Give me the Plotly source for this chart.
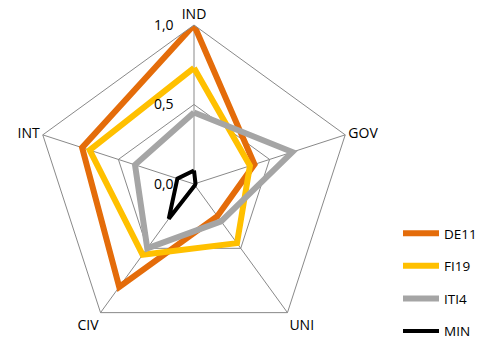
import plotly.graph_objects as go

categories = ["IND", "GOV", "UNI", "CIV", "INT"]
series_names = ["DE11", "FI19", "ITI4", "MIN"]
de11 = [1.00, 0.40, 0.25, 0.80, 0.74]
fi19 = [0.73, 0.37, 0.46, 0.55, 0.69]
iti4 = [0.45, 0.65, 0.29, 0.50, 0.39]
minv = [0.085, 0.01, 0.01, 0.27, 0.11]
radial_ticks = [0.0, 0.5, 1.0]
radial_ticktext = ["0,0", "0,5", "1,0"]

colors = ["#E46C0A", "#FFC000", "#A5A5A5", "#000000"]
widths = [6, 6, 6, 4]
all_values = [de11, fi19, iti4, minv]

fig = go.Figure()
for name, vals, col, w in zip(series_names, all_values, colors, widths):
    fig.add_trace(go.Scatterpolar(
        r=vals + vals[:1],
        theta=categories + categories[:1],
        mode="lines",
        name=name,
        legendgroup=name,
        line=dict(color=col, width=w),
    ))

W, H = 480, 343
cx, cy, R = 194, 184, 159
dx = [(cx - R) / W, (cx + R) / W]
dy = [max(0.0, (H - cy - R) / H), min(1.0, (H - cy + R) / H)]
fig.update_layout(
    width=W, height=H,
    margin=dict(l=0, r=0, t=0, b=0, autoexpand=False),
    paper_bgcolor="white",
    font=dict(family="Open Sans", size=14, color="#000000"),
    separators=",.",
    polar=dict(
        domain=dict(x=dx, y=dy),
        bgcolor="white",
        gridshape="linear",
        radialaxis=dict(
            range=[0, 1],
            tickvals=radial_ticks,
            ticktext=radial_ticktext,
            angle=90,
            tickangle=90,
            side="counterclockwise",
            showline=False,
            ticks="outside",
            ticklen=15,
            tickcolor="rgba(0,0,0,0)",
            gridcolor="#898989",
            gridwidth=1,
            tickfont=dict(size=14),
        ),
        angularaxis=dict(
            rotation=90,
            direction="clockwise",
            categoryorder="array",
            categoryarray=categories,
            showline=True,
            linecolor="#898989",
            linewidth=1,
            gridcolor="#898989",
            gridwidth=1,
            ticks="",
            tickfont=dict(size=14),
        ),
    ),
    legend=dict(
        x=398 / W, y=1 - 218 / H, xanchor="left", yanchor="top",
        tracegroupgap=12,
        itemwidth=36,
        font=dict(size=13.5),
        bgcolor="rgba(0,0,0,0)",
    ),
)

fig.write_html("out.html")
